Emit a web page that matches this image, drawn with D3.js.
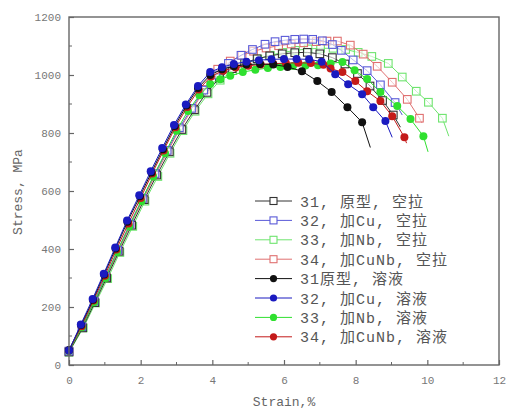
<!DOCTYPE html>
<html>
<head>
<meta charset="utf-8">
<script src="https://cdn.jsdelivr.net/npm/d3@7"></script>
<style>
  body { margin: 0; background: #fff; }
  svg { display: block; }
  .tick-label { font-family: "Liberation Mono", monospace; font-size: 11px; fill: #777; }
  .axis-title { font-family: "Liberation Mono", monospace; font-size: 13px; fill: #666; }
  .legend-text { font-family: "Liberation Mono", "Noto Sans CJK SC", monospace; font-size: 15px; fill: #555; letter-spacing: 1px; }
</style>
</head>
<body>
<svg id="chart" width="507" height="412"></svg>
<script>
const WIDTH = 507;
const HEIGHT = 412;
const MARGIN = {top: 17, right: 8, bottom: 47, left: 69};

const X_TICKS = [0, 2, 4, 6, 8, 10, 12];
const Y_TICKS = [0, 200, 400, 600, 800, 1000, 1200];
const X_LABEL = "Strain,%";
const Y_LABEL = "Stress, MPa";

// [strain %, stress MPa]; the last point is the bare line end
const air31 = [[0, 45], [0.38, 128], [0.72, 215], [1.05, 300], [1.4, 392], [1.75, 482], [2.1, 570], [2.45, 655], [2.8, 735], [3.15, 812], [3.5, 880], [3.85, 940], [4.2, 990], [4.55, 1022], [4.9, 1042], [5.25, 1056], [5.6, 1066], [5.95, 1073], [6.3, 1077], [6.65, 1078], [7.0, 1073], [7.35, 1060], [7.7, 1038], [8.05, 1005], [8.4, 962], [8.75, 912], [9.05, 862], [9.25, 820]];
const air32 = [[0, 48], [0.36, 132], [0.7, 220], [1.02, 305], [1.36, 396], [1.7, 486], [2.05, 574], [2.4, 660], [2.74, 740], [3.08, 818], [3.42, 885], [3.76, 948], [4.1, 1000], [4.45, 1040], [4.8, 1068], [5.12, 1088], [5.47, 1106], [5.75, 1115], [6.03, 1120], [6.3, 1123], [6.55, 1124], [6.8, 1123], [7.07, 1118], [7.35, 1105], [7.6, 1085], [7.93, 1052], [8.32, 1015], [8.69, 966], [9.1, 905], [9.3, 862]];
const air33 = [[0, 44], [0.4, 128], [0.74, 214], [1.08, 298], [1.42, 388], [1.78, 478], [2.12, 565], [2.48, 650], [2.82, 730], [3.18, 808], [3.52, 875], [3.88, 935], [4.22, 982], [4.57, 1015], [4.92, 1038], [5.27, 1055], [5.62, 1068], [5.97, 1078], [6.32, 1085], [6.67, 1090], [7.02, 1092], [7.37, 1092], [7.72, 1088], [8.07, 1078], [8.45, 1064], [8.91, 1040], [9.3, 993], [9.69, 944], [10.03, 906], [10.42, 851], [10.6, 789]];
const air34 = [[0, 46], [0.37, 130], [0.71, 218], [1.04, 302], [1.38, 394], [1.72, 484], [2.07, 572], [2.42, 658], [2.76, 738], [3.1, 816], [3.45, 884], [3.8, 950], [4.15, 1020], [4.5, 1048], [4.83, 1068], [5.15, 1082], [5.5, 1093], [5.85, 1101], [6.2, 1107], [6.55, 1111], [6.9, 1115], [7.2, 1117], [7.49, 1117], [7.85, 1103], [8.21, 1072], [8.6, 1030], [9.02, 975], [9.44, 916], [9.78, 851], [9.85, 835]];
const sol31 = [[0, 52], [0.34, 138], [0.67, 225], [0.98, 312], [1.3, 402], [1.63, 494], [1.98, 582], [2.3, 664], [2.62, 744], [2.95, 824], [3.28, 895], [3.6, 955], [3.94, 1000], [4.27, 1020], [4.6, 1030], [4.95, 1036], [5.33, 1038], [5.7, 1036], [6.1, 1028], [6.5, 1013], [6.93, 979], [7.33, 941], [7.77, 889], [8.18, 837], [8.41, 750]];
const sol32 = [[0, 50], [0.33, 140], [0.66, 228], [0.97, 315], [1.29, 405], [1.62, 498], [1.96, 585], [2.28, 668], [2.6, 748], [2.93, 828], [3.26, 898], [3.6, 962], [3.94, 1010], [4.27, 1027], [4.6, 1038], [4.95, 1046], [5.3, 1051], [5.65, 1054], [6.0, 1055], [6.35, 1055], [6.7, 1054], [7.05, 1046], [7.43, 1003], [7.79, 968], [8.18, 934], [8.49, 889], [8.83, 841], [9.02, 785]];
const sol33 = [[0, 48], [0.36, 130], [0.7, 216], [1.02, 300], [1.34, 390], [1.68, 478], [2.02, 565], [2.35, 650], [2.68, 730], [3.0, 808], [3.32, 876], [3.64, 930], [3.94, 969], [4.22, 985], [4.5, 997], [4.85, 1010], [5.2, 1018], [5.55, 1024], [5.9, 1028], [6.25, 1031], [6.6, 1033], [6.95, 1034], [7.3, 1040], [7.63, 1045], [7.97, 1016], [8.32, 986], [8.69, 941], [9.16, 893], [9.53, 848], [9.89, 789], [10.02, 735]];
const sol34 = [[0, 50], [0.35, 134], [0.68, 222], [1.0, 308], [1.32, 398], [1.66, 488], [2.0, 576], [2.32, 660], [2.64, 740], [2.97, 820], [3.3, 890], [3.62, 950], [3.96, 995], [4.3, 1015], [4.65, 1026], [5.0, 1032], [5.35, 1036], [5.7, 1039], [6.05, 1041], [6.4, 1042], [6.75, 1041], [7.1, 1035], [7.3, 1022], [7.63, 1010], [7.99, 979], [8.32, 944], [8.69, 910], [9.02, 858], [9.36, 785], [9.42, 765]];

const SERIES = [
  {name: "31, 原型, 空拉", data: air31, color: "#333333", open: true},
  {name: "32, 加Cu, 空拉", data: air32, color: "#5a5ad8", open: true},
  {name: "33, 加Nb, 空拉", data: air33, color: "#6ee46e", open: true},
  {name: "34, 加CuNb, 空拉", data: air34, color: "#e07070", open: true},
  {name: "31原型, 溶液", data: sol31, color: "#111111", open: false},
  {name: "32, 加Cu, 溶液", data: sol32, color: "#1a1ac0", open: false},
  {name: "33, 加Nb, 溶液", data: sol33, color: "#2fe02f", open: false},
  {name: "34, 加CuNb, 溶液", data: sol34, color: "#c41a1a", open: false},
];

const svg = d3.select("#chart");
const innerW = WIDTH - MARGIN.left - MARGIN.right;
const innerH = HEIGHT - MARGIN.top - MARGIN.bottom;

const x = d3.scaleLinear().domain([0, 12]).range([MARGIN.left, MARGIN.left + innerW]);
const y = d3.scaleLinear().domain([0, 1200]).range([MARGIN.top + innerH, MARGIN.top]);

const line = d3.line().x((d) => x(d[0])).y((d) => y(d[1]));

// Curves: air-cooled first, solution-treated on top
const order = [2, 3, 0, 1, 6, 7, 4, 5];
const plot = svg.append("g");
order.forEach((i) => {
  const s = SERIES[i];
  const g = plot.append("g");
  g.append("path")
    .attr("d", line(s.data))
    .attr("fill", "none")
    .attr("stroke", s.color)
    .attr("stroke-width", 1);
  const pts = s.data.slice(0, -1);
  if (s.open) {
    g.selectAll("rect").data(pts).enter().append("rect")
      .attr("x", (d) => x(d[0]) - 3.8)
      .attr("y", (d) => y(d[1]) - 3.8)
      .attr("width", 7.6)
      .attr("height", 7.6)
      .attr("fill", "#fff")
      .attr("fill-opacity", 0.6)
      .attr("stroke", s.color)
      .attr("stroke-width", 1.1);
  } else {
    g.selectAll("circle").data(pts).enter().append("circle")
      .attr("cx", (d) => x(d[0]))
      .attr("cy", (d) => y(d[1]))
      .attr("r", 4)
      .attr("fill", s.color);
  }
});

// Frame and inward ticks
svg.append("rect")
  .attr("x", MARGIN.left).attr("y", MARGIN.top)
  .attr("width", innerW).attr("height", innerH)
  .attr("fill", "none").attr("stroke", "#666").attr("stroke-width", 1.4);

const xAxis = d3.axisBottom(x).tickValues(X_TICKS).tickFormat(d3.format("d")).tickSize(-5).tickPadding(9);
const yAxis = d3.axisLeft(y).tickValues(Y_TICKS).tickFormat(d3.format("d")).tickSize(-5).tickPadding(8);

const gx = svg.append("g").attr("transform", `translate(0,${MARGIN.top + innerH})`).call(xAxis);
const gy = svg.append("g").attr("transform", `translate(${MARGIN.left},0)`).call(yAxis);
[gx, gy].forEach((g) => {
  g.select(".domain").remove();
  g.selectAll(".tick line").attr("stroke", "#666").attr("stroke-width", 1.2);
  g.selectAll(".tick text").attr("class", "tick-label").attr("font-family", null).attr("font-size", null);
});
gx.selectAll(".tick text").attr("dy", "0.9em");

// minor ticks
svg.append("g").selectAll("line").data(d3.range(1, 12, 2)).enter().append("line")
  .attr("x1", (d) => x(d)).attr("x2", (d) => x(d))
  .attr("y1", MARGIN.top + innerH).attr("y2", MARGIN.top + innerH - 3)
  .attr("stroke", "#666");
svg.append("g").selectAll("line").data(d3.range(100, 1200, 200)).enter().append("line")
  .attr("x1", MARGIN.left).attr("x2", MARGIN.left + 3)
  .attr("y1", (d) => y(d)).attr("y2", (d) => y(d))
  .attr("stroke", "#666");

// Axis titles
svg.append("text").attr("class", "axis-title")
  .attr("x", 284).attr("y", 406).attr("text-anchor", "middle").text(X_LABEL);
svg.append("text").attr("class", "axis-title")
  .attr("transform", "translate(22,192) rotate(-90)")
  .attr("text-anchor", "middle").text(Y_LABEL);

// Legend
const legend = svg.append("g");
SERIES.forEach((s, i) => {
  const ly = 201 + i * 19.4;
  const row = legend.append("g").attr("transform", `translate(0,${ly})`);
  row.append("line").attr("x1", 255).attr("x2", 292).attr("y1", 0).attr("y2", 0)
    .attr("stroke", s.color).attr("stroke-width", 1);
  if (s.open) {
    row.append("rect").attr("x", 270).attr("y", -3.5).attr("width", 7).attr("height", 7)
      .attr("fill", "#fff").attr("stroke", s.color).attr("stroke-width", 1.1);
  } else {
    row.append("circle").attr("cx", 273.5).attr("cy", 0).attr("r", 3.6).attr("fill", s.color);
  }
  row.append("text").attr("class", "legend-text")
    .attr("x", 300).attr("y", 5.5).text(s.name);
});
</script>
</body>
</html>
